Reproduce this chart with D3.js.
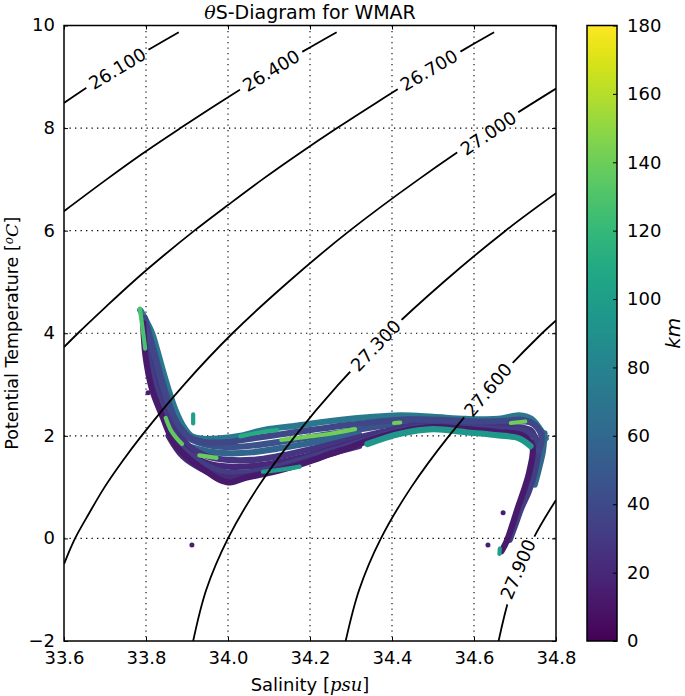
<!DOCTYPE html>
<html><head><meta charset="utf-8">
<script src="https://cdn.jsdelivr.net/npm/d3@7"></script>
<style>
body{margin:0;background:#fff;}
text{font-family:"DejaVu Sans",sans-serif;}
</style></head><body>
<svg id="chart" width="685" height="696"></svg>
<script>
// ---------------- data ----------------
const xTicks=[33.6,33.8,34.0,34.2,34.4,34.6,34.8];
const xTickLabels=["33.6","33.8","34.0","34.2","34.4","34.6","34.8"];
const yTicks=[-2,0,2,4,6,8,10];
const yTickLabels=["\u22122","0","2","4","6","8","10"];
const cbTicks=[0,20,40,60,80,100,120,140,160,180];
const cbTickLabels=["0","20","40","60","80","100","120","140","160","180"];

// isopycnals (sigma-theta), [S, T]
const sigmaLabels=["26.100","26.400","26.700","27.000","27.300","27.600","27.900"];
const iso261=[[33.6,8.49],[33.696,9.0],[33.80,9.5],[33.88,9.87]];
const iso264=[[33.6,6.38],[33.704,7.0],[33.791,7.5],[33.884,8.0],[33.98,8.5],[34.08,9.0],[34.184,9.5],[34.265,9.87]];
const iso267=[[33.6,3.73],[33.634,4.0],[33.70,4.5],[33.768,5.0],[33.841,5.5],[33.918,6.0],[34.0,6.5],[34.084,7.0],[34.173,7.5],[34.266,8.0],[34.363,8.5],[34.463,9.0],[34.569,9.5],[34.649,9.87]];
const iso270=[[33.6,-0.5],[33.627,0],[33.662,0.5],[33.699,1.0],[33.742,1.5],[33.789,2.0],[33.893,3.0],[34.011,4.0],[34.147,5.0],[34.297,6.0],[34.465,7.0],[34.648,8.0],[34.8,8.77]];
const iso273=[[33.915,-2],[33.947,-1],[34.0,0],[34.073,1],[34.164,2],[34.269,3],[34.389,4],[34.526,5],[34.677,6],[34.8,6.73]];
const iso276=[[34.287,-2],[34.32,-1],[34.373,0],[34.447,1],[34.539,2],[34.645,3],[34.766,4],[34.8,4.25]];
const iso279=[[34.66,-2],[34.692,-1],[34.745,0],[34.8,0.75]];
const isopycnals=[iso261,iso264,iso267,iso270,iso273,iso276,iso279];
const sigmaLabelPos=[[33.73,9.16],[34.105,9.12],[34.49,9.13],[34.635,7.9],[34.36,3.76],[34.634,2.9],[34.707,-0.6]];

// CTD profiles (distance along section, km) [S, T]
const profUpper=[[33.786,4.45],[33.80,4.25],[33.815,4.0],[33.828,3.65],[33.842,3.25],[33.857,2.85],[33.872,2.5],[33.89,2.2],[33.91,2.0],[33.94,1.94],[33.98,1.95],[34.03,2.0],[34.09,2.12],[34.17,2.2],[34.25,2.29],[34.34,2.36],[34.42,2.40],[34.5,2.37],[34.58,2.33],[34.66,2.33],[34.71,2.40],[34.74,2.33],[34.762,2.12],[34.775,1.95]];
const profHookOuter=[[34.772,2.05],[34.768,1.7],[34.758,1.35],[34.748,1.05]];
const profBlue=[[33.805,4.05],[33.82,3.65],[33.835,3.2],[33.852,2.75],[33.872,2.3],[33.9,1.98],[33.94,1.84],[34.0,1.78],[34.07,1.82],[34.14,1.9],[34.22,2.0],[34.3,2.1],[34.38,2.2],[34.46,2.27],[34.54,2.28],[34.62,2.26],[34.69,2.27],[34.74,2.26],[34.765,2.05]];
const profMidBlue=[[33.9,1.8],[33.95,1.7],[34.0,1.66],[34.06,1.68],[34.12,1.75],[34.18,1.83],[34.25,1.93],[34.32,2.03]];
const profMid=[[33.803,4.1],[33.815,3.6],[33.83,3.1],[33.848,2.6],[33.872,2.12],[33.905,1.8],[33.95,1.6],[34.0,1.53],[34.06,1.53],[34.12,1.6],[34.18,1.7],[34.25,1.83],[34.32,1.97],[34.4,2.12],[34.48,2.24],[34.56,2.24],[34.64,2.2],[34.7,2.17],[34.74,2.1],[34.752,1.8],[34.745,1.45],[34.738,1.1]];
const profMidLow=[[33.875,1.95],[33.91,1.63],[33.955,1.45],[34.0,1.4],[34.06,1.41],[34.12,1.48],[34.18,1.58],[34.24,1.71],[34.3,1.85],[34.36,1.97]];
const profLow=[[33.798,3.9],[33.808,3.4],[33.822,2.95],[33.84,2.5],[33.865,2.0],[33.9,1.68],[33.945,1.43],[34.0,1.28],[34.05,1.29],[34.1,1.36],[34.16,1.49],[34.22,1.63],[34.28,1.78],[34.35,1.95],[34.42,2.12],[34.5,2.2],[34.58,2.18],[34.66,2.13],[34.72,2.1],[34.755,1.9],[34.748,1.3],[34.733,0.9],[34.716,0.6],[34.70,0.25],[34.687,-0.03]];
const profLow2=[[33.855,2.0],[33.89,1.6],[33.935,1.36],[33.985,1.2],[34.04,1.2],[34.09,1.28],[34.15,1.4],[34.2,1.52],[34.26,1.67],[34.32,1.8]];
const profTop=[[33.797,4.3],[33.81,3.9],[33.823,3.5],[33.84,3.0],[33.858,2.55],[33.88,2.2],[33.905,1.98],[33.94,1.88],[34.0,1.88],[34.06,1.95],[34.13,2.03],[34.2,2.11],[34.28,2.2],[34.36,2.27],[34.44,2.32],[34.52,2.31],[34.6,2.28],[34.67,2.29],[34.72,2.31],[34.75,2.2],[34.765,1.98],[34.758,1.7]];
const profBottom=[[33.793,4.2],[33.799,3.55],[33.815,2.9],[33.84,2.38],[33.87,1.84],[33.91,1.52],[33.95,1.29],[33.98,1.14],[34.005,1.09],[34.046,1.19],[34.085,1.25],[34.127,1.33],[34.176,1.44],[34.21,1.53],[34.25,1.65],[34.3,1.78],[34.34,1.9],[34.42,2.08],[34.5,2.17],[34.58,2.13],[34.66,2.07],[34.715,2.02],[34.742,1.82],[34.735,1.3],[34.72,0.9],[34.707,0.6],[34.693,0.25],[34.68,-0.05],[34.667,-0.25]];
const profLowerRight=[[34.34,1.84],[34.42,2.04],[34.5,2.13],[34.58,2.07],[34.66,2.01],[34.71,1.95],[34.738,1.8]];
const profiles=[profUpper,profHookOuter,profBlue,profMidBlue,profMid,profMidLow,profLow,profLow2,profTop,profBottom,profLowerRight];
const profileKm=[72,60,45,58,28,20,32,22,38,12,95];

// short streaks of individual stations
const streakTip=[[33.785,4.48],[33.789,4.25],[33.794,3.95],[33.798,3.7]];
const streakBranch=[[33.848,2.35],[33.86,2.12],[33.874,1.96],[33.888,1.84]];
const streakA=[[33.93,1.62],[33.972,1.57]];
const streakB=[[34.13,1.92],[34.19,1.98],[34.25,2.04],[34.31,2.13]];
const streakC=[[34.69,2.25],[34.725,2.28]];
const streakD=[[34.03,1.99],[34.08,2.07],[34.12,2.11]];
const streakE=[[34.405,2.25],[34.42,2.26]];
const streakF=[[34.085,1.3],[34.13,1.34],[34.175,1.4]];
const streakSpike=[[33.915,2.42],[33.915,2.24]];
const streakBottom=[[34.663,-0.2],[34.662,-0.3]];
const streaks=[streakTip,streakBranch,streakA,streakB,streakC,streakD,streakE,streakF,streakSpike,streakBottom];
const streakKm=[128,136,138,140,140,112,140,100,100,100];

const outliers=[[33.805,2.84],[33.912,-0.13],[34.671,0.5],[34.634,-0.13]];
const outlierKm=[15,15,15,15];

// ---------------- drawing ----------------
const W=685,H=696;
const X0=64,X1=556,Y0=25.5,Y1=641;
const svg=d3.select("#chart");
const x=d3.scaleLinear().domain([33.6,34.8]).range([X0,X1]);
const y=d3.scaleLinear().domain([-2,10]).range([Y1,Y0]);
const cScale=d3.scaleLinear().domain([0,180]).range([Y1,Y0]);
const color=km=>d3.interpolateViridis(km/180);
const defs=svg.append("defs");
defs.append("clipPath").attr("id","plotclip").append("rect")
  .attr("x",X0).attr("y",Y0).attr("width",X1-X0).attr("height",Y1-Y0);

// grid
const grid=svg.append("g").attr("stroke","#000").attr("stroke-width",1.1).attr("stroke-dasharray","1.3,4.2");
xTicks.slice(1,-1).forEach(v=>grid.append("line").attr("x1",x(v)).attr("x2",x(v)).attr("y1",Y0).attr("y2",Y1));
yTicks.slice(1,-1).forEach(v=>grid.append("line").attr("y1",y(v)).attr("y2",y(v)).attr("x1",X0).attr("x2",X1));

// scatter profiles
const line=d3.line().x(d=>x(d[0])).y(d=>y(d[1])).curve(d3.curveCatmullRom);
const sc=svg.append("g").attr("clip-path","url(#plotclip)").attr("fill","none")
  .attr("stroke-linecap","round").attr("stroke-linejoin","round");
profiles.forEach((p,i)=>sc.append("path").attr("d",line(p)).attr("stroke",color(profileKm[i])).attr("stroke-width",6.2));
streaks.forEach((p,i)=>sc.append("path").attr("d",line(p)).attr("stroke",color(streakKm[i])).attr("stroke-width",4.2));
sc.selectAll("circle.o").data(outliers).join("circle").attr("cx",d=>x(d[0])).attr("cy",d=>y(d[1]))
  .attr("r",2.5).attr("fill",(d,i)=>color(outlierKm[i])).attr("stroke","none");

// isopycnal labels (measure first)
const labG=svg.append("g");
const mask=defs.append("mask").attr("id","lblmask").attr("maskUnits","userSpaceOnUse")
  .attr("x",0).attr("y",0).attr("width",W).attr("height",H);
mask.append("rect").attr("width",W).attr("height",H).attr("fill","white");
sigmaLabelPos.forEach((lp,i)=>{
  const pts=isopycnals[i].map(d=>[x(d[0]),y(d[1])]);
  const px=x(lp[0]),py=y(lp[1]);
  let best=1e9,ang=0;
  for(let k=0;k<pts.length-1;k++){
    const [ax,ay]=pts[k],[bx,by]=pts[k+1];
    const dx=bx-ax,dy=by-ay;
    let t=((px-ax)*dx+(py-ay)*dy)/(dx*dx+dy*dy);t=Math.max(0,Math.min(1,t));
    const qx=ax+t*dx,qy=ay+t*dy,dd=(px-qx)**2+(py-qy)**2;
    if(dd<best){best=dd;ang=Math.atan2(dy,dx)*180/Math.PI;}
  }
  const t=labG.append("text").attr("transform",`translate(${px},${py}) rotate(${ang})`)
    .attr("text-anchor","middle").attr("dy","0.36em").attr("font-size",18).attr("fill","#000").text(sigmaLabels[i]);
  const w=t.node().getComputedTextLength()+10;
  mask.append("rect").attr("x",-w/2).attr("y",-11).attr("width",w).attr("height",22)
    .attr("transform",`translate(${px},${py}) rotate(${ang})`).attr("fill","black");
});

// isopycnal lines
const cg=svg.append("g").attr("clip-path","url(#plotclip)");
const cg2=cg.append("g").attr("mask","url(#lblmask)");
isopycnals.forEach(p=>cg2.append("path").attr("d",line(p)).attr("fill","none").attr("stroke","#000").attr("stroke-width",1.8));

// frame
svg.append("rect").attr("x",X0).attr("y",Y0).attr("width",X1-X0).attr("height",Y1-Y0)
  .attr("fill","none").attr("stroke","#000").attr("stroke-width",1.5);

// axes
function styleAxis(g){g.select(".domain").remove();g.attr("font-size",18).attr("font-family","DejaVu Sans");
  g.selectAll("line").attr("stroke","#000").attr("stroke-width",1);g.selectAll("text").attr("fill","#000");}
svg.append("g").attr("transform",`translate(0,${Y1})`)
  .call(d3.axisBottom(x).tickValues(xTicks).tickFormat((d,i)=>xTickLabels[i]).tickSize(-4).tickPadding(10)).call(styleAxis);
svg.append("g").attr("transform",`translate(0,${Y0})`)
  .call(d3.axisTop(x).tickValues(xTicks).tickFormat("").tickSize(-4)).call(styleAxis);
const yAx=svg.append("g").attr("transform",`translate(${X0},0)`)
  .call(d3.axisLeft(y).tickValues(yTicks).tickFormat((d,i)=>yTickLabels[i]).tickSize(-4).tickPadding(9)).call(styleAxis);
yAx.selectAll("text").attr("dy","0.3em");
svg.append("g").attr("transform",`translate(${X1},0)`)
  .call(d3.axisRight(y).tickValues(yTicks).tickFormat("").tickSize(-4)).call(styleAxis);

// colorbar
const CB0=587,CB1=617;
const grad=defs.append("linearGradient").attr("id","vir").attr("x1",0).attr("y1",1).attr("x2",0).attr("y2",0);
d3.range(0,1.0001,0.02).forEach(t=>grad.append("stop").attr("offset",t).attr("stop-color",d3.interpolateViridis(t)));
svg.append("rect").attr("x",CB0).attr("y",cScale(180)).attr("width",CB1-CB0).attr("height",cScale(0)-cScale(180))
  .attr("fill","url(#vir)").attr("stroke","#000").attr("stroke-width",1.5);
svg.append("g").attr("transform",`translate(${CB1},0)`)
  .call(d3.axisRight(cScale).tickValues(cbTicks).tickFormat((d,i)=>cbTickLabels[i]).tickSize(-4).tickPadding(10)).call(styleAxis);

// titles
const title=svg.append("text").attr("x",(X0+X1)/2).attr("y",19).attr("text-anchor","middle").attr("font-size",19);
title.append("tspan").attr("font-family","DejaVu Serif").attr("font-style","italic").text("\u03b8");
title.append("tspan").text("S-Diagram for WMAR");
const xl=svg.append("text").attr("x",(X0+X1)/2).attr("y",691).attr("text-anchor","middle").attr("font-size",18);
xl.append("tspan").text("Salinity [");
xl.append("tspan").attr("font-family","DejaVu Serif").attr("font-style","italic").text("psu");
xl.append("tspan").text("]");
const yl=svg.append("text").attr("transform",`translate(18,${(Y0+Y1)/2}) rotate(-90)`).attr("text-anchor","middle").attr("font-size",17.5);
yl.append("tspan").text("Potential Temperature [");
yl.append("tspan").attr("font-family","DejaVu Serif").attr("font-style","italic").attr("font-size",12).attr("dy",-5).text("o");
yl.append("tspan").attr("font-family","DejaVu Serif").attr("font-style","italic").attr("dy",5).text("C");
yl.append("tspan").text("]");
svg.append("text").attr("transform",`translate(680,${(Y0+Y1)/2}) rotate(-90)`).attr("text-anchor","middle")
  .attr("font-size",20).attr("font-family","DejaVu Serif").attr("font-style","italic").text("km");
</script></body></html>
